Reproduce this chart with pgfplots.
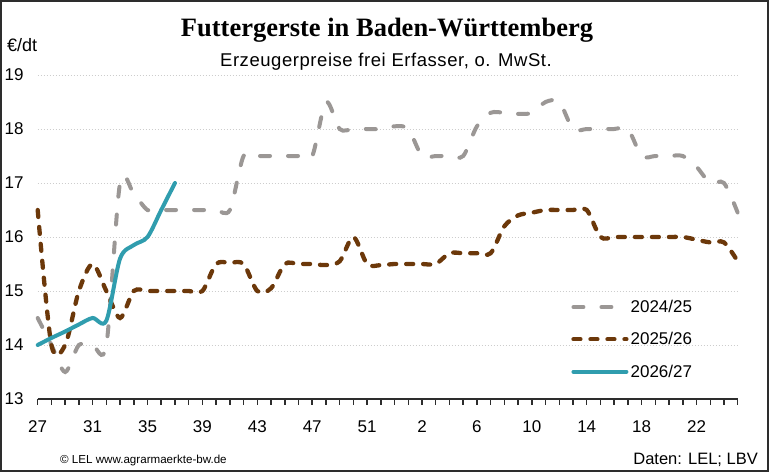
\documentclass[border=0pt]{standalone}
\usepackage{pgfplots}
\pgfplotsset{compat=1.18}
\usepackage{fontspec}
\setmainfont{Liberation Sans}
\newfontfamily\titlefont{Liberation Serif}
\newfontfamily\subfont{Liberation Sans}[LetterSpace=3]

\definecolor{c2425}{RGB}{155,151,149}
\definecolor{c2526}{RGB}{108,56,10}
\definecolor{c2627}{RGB}{48,157,174}
\definecolor{gridc}{RGB}{205,205,205}
\definecolor{framec}{RGB}{45,45,45}

% weeks 27..53, 1..25 on positions 0..51
\pgfplotstableread{
x y
0 14.5
1 14.0
2 13.5
3 14.0
4 14.0
5 14.0
6 17.0
7 16.8
8 16.5
9 16.5
10 16.5
11 16.5
12 16.5
13 16.5
14 16.5
15 17.5
16 17.5
17 17.5
18 17.5
19 17.5
20 17.5
21 18.5
22 18.0
23 18.0
24 18.0
25 18.0
26 18.05
27 18.0
28 17.5
29 17.5
30 17.5
31 17.5
32 18.05
33 18.3
34 18.3
35 18.28
36 18.3
37 18.5
38 18.5
39 18.0
40 18.0
41 18.0
42 18.0
43 18.0
44 17.5
45 17.5
46 17.5
47 17.5
48 17.3
49 17.0
50 17.0
51 16.45
}\seriesA

\pgfplotstableread{
x y
0 16.5
1 14.0
2 14.0
3 15.0
4 15.5
5 15.0
6 14.5
7 15.0
8 15.0
9 15.0
10 15.0
11 15.0
12 15.0
13 15.5
14 15.52
15 15.5
16 15.0
17 15.05
18 15.5
19 15.5
20 15.5
21 15.48
22 15.55
23 16.0
24 15.5
25 15.48
26 15.5
27 15.5
28 15.5
29 15.5
30 15.7
31 15.7
32 15.7
33 15.7
34 16.2
35 16.4
36 16.45
37 16.5
38 16.5
39 16.5
40 16.5
41 16.0
42 16.0
43 16.0
44 16.0
45 16.0
46 16.0
47 16.0
48 15.95
49 15.9
50 15.9
51 15.55
}\seriesB

\pgfplotstableread{
x y
0 14.0
1 14.13
2 14.25
3 14.38
4 14.5
5 14.45
6 15.6
7 15.85
8 16.0
9 16.5
10 17.0
}\seriesC

\begin{document}
\begin{tikzpicture}[x=1pt,y=1pt]
\useasboundingbox (0,0) rectangle (769,472);
\draw[line width=2pt, framec] (1,1) rectangle (768,471);

\node[anchor=base, inner sep=0pt, font=\titlefont\bfseries\fontsize{26.5}{30}\selectfont]
  at (387,435) {Futtergerste in Baden-Württemberg};
\node[anchor=base, inner sep=0pt, font=\subfont\fontsize{18.5}{22}\selectfont]
  at (386,405.3) {Erzeugerpreise frei Erfasser, o. MwSt.};
\node[anchor=base west, inner sep=0pt, font=\fontsize{18}{22}\selectfont]
  at (7,420.3) {€/dt};

\begin{axis}[
  at={(37.7pt,73pt)}, anchor=south west,
  scale only axis, width=700pt, height=324pt,
  xmin=0, xmax=51, ymin=13, ymax=19,
  axis x line*=bottom, axis y line*=left,
  x axis line style={line width=1.8pt, framec},
  y axis line style={draw=none},
  xtick={0,4,...,48},
  xticklabels={27,31,35,39,43,47,51,2,6,10,14,18,22},
  minor xtick={0,1,...,51},
  ytick={13,14,...,19},
  tick align=outside,
  major tick length=5.5pt, minor tick length=5.5pt,
  every tick/.style={line width=1.5pt, framec},
  ytick style={draw=none},
  ymajorgrids=true,
  grid style={gridc, line width=0.7pt, dash pattern=on 1.5pt off 1.5pt},
  tick label style={font=\fontsize{17}{20}\selectfont},
  xticklabel style={yshift=-13pt},
  yticklabel style={anchor=west, xshift=-31pt},
  /pgf/number format/assume math mode=true,
  legend style={at={(0.762,0.312)}, anchor=north west, draw=none, fill=none,
    font=\fontsize{17}{20}\selectfont, row sep=14.5pt, inner sep=0pt},
  legend cell align=left,
  legend image code/.code={\draw[#1] (0pt,0pt) -- (53pt,0pt);},
  every axis plot/.append style={smooth, line cap=round, no markers},
  clip=false,
]
\addplot[c2425, line width=4pt, dash pattern=on 10pt off 18pt] table[x=x,y=y] {\seriesA};
\addlegendentry{2024/25}
\addplot[c2526, line width=4.3pt, dash pattern=on 7pt off 10pt] table[x=x,y=y] {\seriesB};
\addlegendentry{2025/26}
\addplot[c2627, line width=4pt] table[x=x,y=y] {\seriesC};
\addlegendentry{2026/27}
\end{axis}

\node[anchor=base west, inner sep=0pt, font=\fontsize{11.6}{14}\selectfont]
  at (60,9) {© LEL www.agrarmaerkte-bw.de};
\node[anchor=base east, inner sep=0pt, font=\fontsize{16.5}{20}\selectfont]
  at (758,8) {Daten: LEL; LBV};
\end{tikzpicture}
\end{document}
